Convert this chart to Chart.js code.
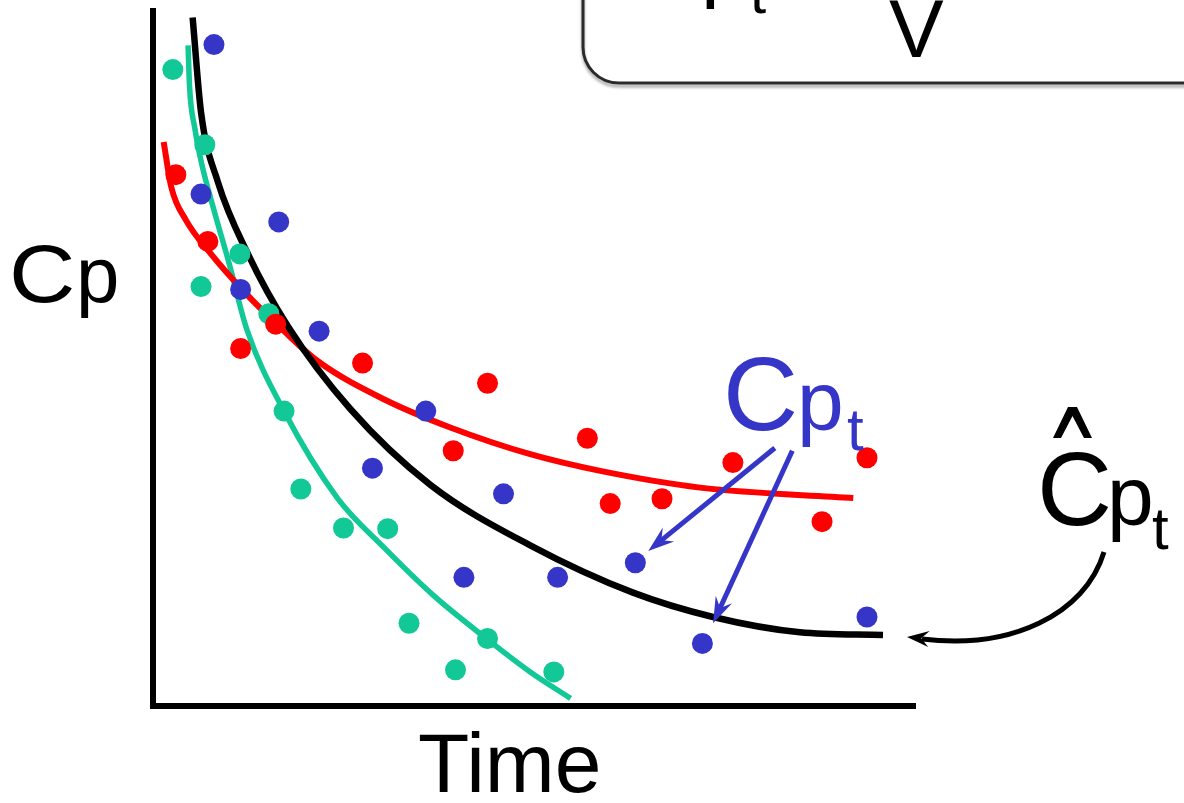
<!DOCTYPE html>
<html lang="en">
<head>
<meta charset="UTF-8">
<title>Cp vs Time</title>
<script src="https://cdn.jsdelivr.net/npm/chart.js"></script>
<style>
  html, body { margin: 0; padding: 0; background: #fff; }
  #wrap { width: 1184px; height: 803px; }
</style>
</head>
<body>
<div id="wrap"><canvas id="cpChart"></canvas></div>
<script>
// measured concentrations (blue = Cp_t), plus two other profiles
const blueTime = [8.0, 6.3, 16.5, 11.5, 21.8, 35.8, 28.8, 46.0, 40.8, 53.1, 63.3, 72.1, 93.7];
const blueCp   = [95.1, 73.6, 69.6, 59.9, 53.9, 42.4, 34.2, 30.5, 18.5, 18.5, 20.6, 9.0, 12.8];

const redTime = [3.0, 7.2, 16.1, 11.5, 27.5, 43.9, 39.4, 57.0, 60.0, 66.8, 76.1, 93.7, 87.8];
const redCp   = [76.4, 66.8, 54.9, 51.4, 49.3, 46.4, 36.7, 38.5, 29.1, 29.8, 35.0, 35.7, 26.5];

const greenTime = [2.6, 6.8, 11.4, 6.3, 15.2, 17.2, 19.4, 25.0, 30.8, 33.6, 43.9, 39.7, 52.6];
const greenCp   = [91.5, 80.7, 65.0, 60.3, 56.4, 42.4, 31.2, 25.6, 25.5, 11.9, 9.7, 5.2, 4.9];

// fitted curves
const blackFitTime = [5.2, 6.3, 8.5, 12.5, 17.7, 25.9, 36.4, 49.5, 63.0, 73.5, 84.9, 95.8];
const blackFitCp   = [99.0, 85.4, 75.4, 64.9, 54.6, 42.7, 31.8, 23.1, 16.3, 12.8, 10.6, 10.2];

const redFitTime = [1.4, 2.4, 4.3, 7.6, 12.2, 17.2, 21.6, 30.3, 39.1, 49.5, 58.7, 71.8, 91.9];
const redFitCp   = [81.1, 74.6, 69.9, 65.0, 59.3, 53.9, 49.6, 44.1, 40.0, 36.2, 33.8, 31.4, 29.9];

const greenFitTime = [4.6, 4.8, 5.5, 6.4, 8.0, 10.0, 12.3, 17.2, 24.2, 30.3, 36.8, 43.4, 49.5, 54.8];
const greenFitCp   = [95.0, 89.0, 83.0, 77.9, 71.3, 63.6, 54.2, 42.4, 29.9, 22.8, 15.9, 10.0, 4.9, 1.1];

// arrows from the Cp_t label to two of the blue points (time, Cp)
const cpArrows = [
  [81.6, 37.1, 65.0, 22.3],
  [83.9, 36.7, 73.5, 11.9]
];

const BLUE = '#3535c8';
const RED = '#ff0000';
const GREEN = '#12c896';
const FONT = "'Liberation Sans', Arial, sans-serif";

const pts = (xs, ys) => xs.map((x, i) => ({ x: x, y: ys[i] }));

function arrowHead(ctx, x1, y1, x2, y2, len, half) {
  const a = Math.atan2(y2 - y1, x2 - x1);
  ctx.beginPath();
  ctx.moveTo(x2, y2);
  ctx.lineTo(x2 - len * Math.cos(a) + half * Math.sin(a), y2 - len * Math.sin(a) - half * Math.cos(a));
  ctx.lineTo(x2 - len * 0.65 * Math.cos(a), y2 - len * 0.65 * Math.sin(a));
  ctx.lineTo(x2 - len * Math.cos(a) - half * Math.sin(a), y2 - len * Math.sin(a) + half * Math.cos(a));
  ctx.closePath();
  ctx.fill();
}

// "C" big, "p" smaller, "t" as subscript
function cpt(ctx, cx, px, tx, base, cSize, pSize, tSize, tDrop, cStretch) {
  ctx.save();
  ctx.translate(cx, base);
  ctx.scale(cStretch || 1, 1);
  ctx.font = cSize + 'px ' + FONT;
  ctx.fillText('C', 0, 0);
  ctx.restore();
  ctx.font = pSize + 'px ' + FONT;
  ctx.fillText('p', px, base);
  if (tSize) {
    ctx.font = tSize + 'px ' + FONT;
    ctx.fillText('t', tx, base + tDrop);
  }
}

const labels = {
  id: 'labels',
  afterDraw(chart) {
    const ctx = chart.ctx;
    const sx = chart.scales.x, sy = chart.scales.y;
    ctx.save();

    // formula box, cut off at the top
    ctx.save();
    ctx.strokeStyle = '#2a2a2a';
    ctx.lineWidth = 3;
    ctx.shadowColor = 'rgba(0,0,0,0.35)';
    ctx.shadowOffsetY = 3;
    ctx.shadowBlur = 3;
    ctx.beginPath();
    ctx.moveTo(583, -10);
    ctx.lineTo(583, 47);
    ctx.arcTo(583, 83, 619, 83, 36);
    ctx.lineTo(1200, 83);
    ctx.stroke();
    ctx.restore();

    ctx.fillStyle = '#000';
    ctx.textBaseline = 'alphabetic';
    ctx.textAlign = 'left';
    cpt(ctx, 630, 701, 750, -8, 104, 84, 58, 21);
    ctx.font = '82px ' + FONT;
    ctx.fillText('V', 889, 57);

    // axis labels
    cpt(ctx, 9, 76, 0, 302, 82, 78, 0, 0, 1.12);
    ctx.font = '84px ' + FONT;
    ctx.fillText('Time', 418, 792);

    // blue Cp_t label and arrows
    ctx.fillStyle = BLUE;
    cpt(ctx, 723, 797, 847, 430, 104, 84, 60, 20);

    ctx.strokeStyle = BLUE;
    ctx.lineWidth = 5;
    cpArrows.forEach(a => {
      const x1 = sx.getPixelForValue(a[0]), y1 = sy.getPixelForValue(a[1]);
      const x2 = sx.getPixelForValue(a[2]), y2 = sy.getPixelForValue(a[3]);
      const ang = Math.atan2(y2 - y1, x2 - x1);
      ctx.beginPath();
      ctx.moveTo(x1, y1);
      ctx.lineTo(x2 - 14 * Math.cos(ang), y2 - 14 * Math.sin(ang));
      ctx.stroke();
      arrowHead(ctx, x1, y1, x2, y2, 26, 9);
    });

    // black fitted label with hat
    ctx.fillStyle = '#000';
    cpt(ctx, 1037, 1107, 1152, 525, 104, 84, 60, 24);
    ctx.beginPath();
    ctx.moveTo(1053, 438);
    ctx.lineTo(1068, 407);
    ctx.lineTo(1077, 407);
    ctx.lineTo(1092, 438);
    ctx.lineTo(1084, 438);
    ctx.lineTo(1072.5, 416);
    ctx.lineTo(1061, 438);
    ctx.closePath();
    ctx.fill();

    // curved arrow to the end of the black curve
    ctx.strokeStyle = '#000';
    ctx.lineWidth = 5;
    ctx.beginPath();
    ctx.moveTo(1104, 552);
    ctx.bezierCurveTo(1085, 615, 1010, 650, 922, 639);
    ctx.stroke();
    arrowHead(ctx, 940, 640, 907, 637, 22, 8);

    ctx.restore();
  }
};

const dotStyle = (color) => ({
  showLine: false,
  pointRadius: 10.5,
  pointBackgroundColor: color,
  pointBorderWidth: 0,
  order: 1,
  clip: false
});

const lineStyle = (color, width) => ({
  showLine: true,
  borderColor: color,
  borderWidth: width,
  pointRadius: 0,
  cubicInterpolationMode: 'monotone',
  fill: false,
  order: 2,
  clip: false
});

new Chart(document.getElementById('cpChart'), {
  type: 'scatter',
  data: {
    datasets: [
      Object.assign({ label: 'Cp_t', data: pts(blueTime, blueCp) }, dotStyle(BLUE)),
      Object.assign({ label: 'red', data: pts(redTime, redCp) }, dotStyle(RED)),
      Object.assign({ label: 'green', data: pts(greenTime, greenCp) }, dotStyle(GREEN)),
      Object.assign({ label: 'fit black', data: pts(blackFitTime, blackFitCp) }, lineStyle('#000', 6.5)),
      Object.assign({ label: 'fit red', data: pts(redFitTime, redFitCp) }, lineStyle(RED, 6)),
      Object.assign({ label: 'fit green', data: pts(greenFitTime, greenFitCp) }, lineStyle(GREEN, 5.5))
    ]
  },
  options: {
    responsive: true,
    maintainAspectRatio: false,
    animation: false,
    layout: { padding: { left: 153, right: 269, top: 8, bottom: 97 } },
    plugins: { legend: { display: false }, tooltip: { enabled: false } },
    scales: {
      x: {
        type: 'linear', min: 0, max: 100,
        ticks: { display: false },
        grid: { display: false, drawTicks: false, tickLength: 0 },
        border: { display: true, color: '#000', width: 6 },
        afterFit: s => { s.height = 0; }
      },
      y: {
        type: 'linear', min: 0, max: 100,
        ticks: { display: false },
        grid: { display: false, drawTicks: false, tickLength: 0 },
        border: { display: true, color: '#000', width: 6 },
        afterFit: s => { s.width = 0; }
      }
    }
  },
  plugins: [labels]
});
</script>
</body>
</html>
